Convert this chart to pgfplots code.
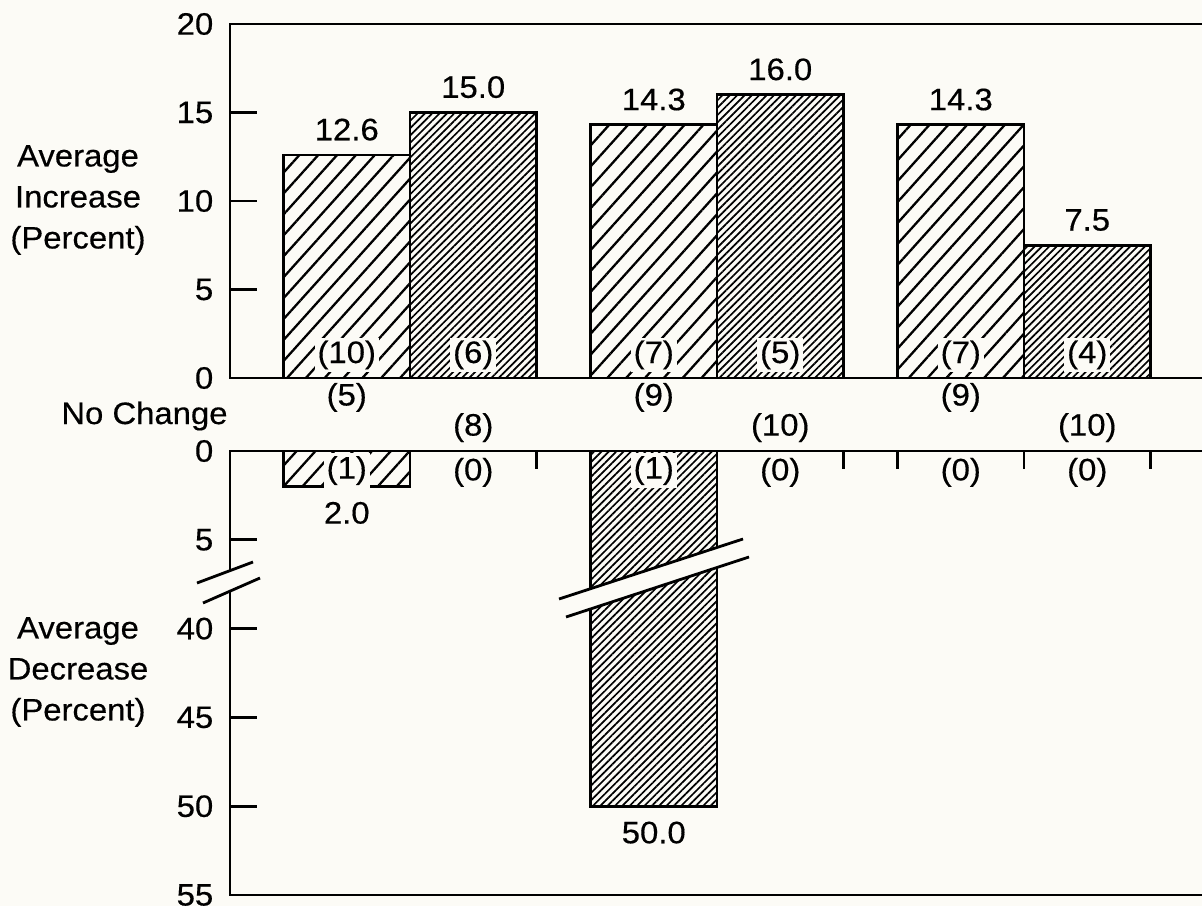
\documentclass[border=0pt]{standalone}
\usepackage{fontspec}
\setmainfont{Liberation Sans}[FakeStretch=1.06, FakeBold=0.4]
\usepackage{pgfplots}
\pgfplotsset{compat=1.18}
\usetikzlibrary{patterns.meta}
\definecolor{bgc}{RGB}{252,251,246}

\tikzset{cnt/.style={fill=bgc, inner sep=1.5pt}}
\pgfplotsset{
  /pgf/number format/assume math mode=true,
  panel/.style={
    anchor=south west, scale only axis, width=487pt,
    xmin=0.4137, xmax=3.5863,
    axis line style={line width=1.4pt},
    tick style={line width=1.4pt, black},
    tick align=inside,
    ytick pos=left,
    major tick length=13.5pt,
    yticklabel style={xshift=-3pt},
    clip=false,
  },
  coarse/.style={ybar, bar width=0.412, bar shift=0pt, draw=black, line width=1.4pt,
    pattern={Lines[angle=48,distance=7pt,line width=1.15pt]}, pattern color=black},
  fine/.style={ybar, bar width=0.412, bar shift=0pt, draw=black, line width=1.4pt,
    pattern={Lines[angle=45,distance=2.6pt,line width=0.85pt]}, pattern color=black},
}

\begin{document}
\fontsize{15.5pt}{20.5pt}\selectfont
\begin{tikzpicture}
\path[use as bounding box, fill=bgc] (0,0) rectangle (601pt,453pt);

% ---------------- upper panel: average increase ----------------
% bars: group centres 1, 2, 3; first bar of each group at -0.206, second at +0.206
\begin{axis}[panel,
  at={(115pt,264pt)}, height=177pt,
  ymin=0, ymax=20,
  xtick=\empty,
  ytick={0,5,10,15,20}, yticklabels={0,5,10,15,20},
  nodes near coords={\pgfmathprintnumber[fixed,fixed zerofill,precision=1]{\pgfplotspointmeta}},
  every node near coord/.append style={anchor=south, inner sep=6.5pt},
]
\addplot[coarse] coordinates {(0.794,12.6) (1.794,14.3) (2.794,14.3)};
\addplot[fine] coordinates {(1.206,15.0) (2.206,16.0) (3.206,7.5)};
% counts inside bars
\node[cnt] at (axis cs:0.794,1.3) {(10)};
\node[cnt] at (axis cs:1.206,1.3) {(6)};
\node[cnt] at (axis cs:1.794,1.3) {(7)};
\node[cnt] at (axis cs:2.206,1.3) {(5)};
\node[cnt] at (axis cs:2.794,1.3) {(7)};
\node[cnt] at (axis cs:3.206,1.3) {(4)};
% no change counts
\node at (axis cs:0.794,-1.1) {(5)};
\node at (axis cs:1.206,-2.8) {(8)};
\node at (axis cs:1.794,-1.1) {(9)};
\node at (axis cs:2.206,-2.8) {(10)};
\node at (axis cs:2.794,-1.1) {(9)};
\node at (axis cs:3.206,-2.8) {(10)};
\end{axis}

% ---------------- lower panel: average decrease (broken scale) ----------------
\begin{axis}[panel,
  at={(115pt,5.5pt)}, height=222pt,
  ymin=0, ymax=25, y dir=reverse,
  y filter/.expression={y>=39 ? y-30 : y},
  ytick={0,5,10,15,20,25}, yticklabels={0,5,40,45,50,55},
  xtick={0.588,1,1.412,1.588,2,2.412,2.588,3,3.412},
  xticklabels={},
  xtick pos=top,
  xtick style={/pgfplots/major tick length=9pt},
  point meta=explicit,
  nodes near coords={\pgfmathprintnumber[fixed,fixed zerofill,precision=1]{\pgfplotspointmeta}},
  every node near coord/.append style={anchor=north, inner sep=7pt},
]
\addplot[coarse] table[meta=v] {
x y v
0.794 2.0 2.0
};
\addplot[fine] table[meta=v] {
x y v
1.794 50.0 50.0
};
\node[cnt] at (axis cs:0.794,1.1) {(1)};
\node at (axis cs:1.206,1.2) {(0)};
\node[cnt] at (axis cs:1.794,1.1) {(1)};
\node at (axis cs:2.206,1.2) {(0)};
\node at (axis cs:2.794,1.2) {(0)};
\node at (axis cs:3.206,1.2) {(0)};
\end{axis}

% axis titles
\node[align=center] at (39pt,353pt) {Average\\Increase\\(Percent)};
\node[align=center] at (39pt,117pt) {Average\\Decrease\\(Percent)};
\node[anchor=east, inner sep=0pt] at (114pt,245pt) {No Change};

% scale breaks
\fill[bgc] (98.5pt,161.5pt) -- (126.5pt,172pt) -- (130pt,164pt) -- (101.5pt,151.5pt) -- cycle;
\draw[line width=1.4pt] (98.5pt,161.5pt) -- (126.5pt,172pt);
\draw[line width=1.4pt] (101.5pt,151.5pt) -- (130pt,164pt);
\fill[bgc] (279.5pt,153.5pt) -- (371.5pt,183.5pt) -- (374.5pt,174.5pt) -- (283pt,144.5pt) -- cycle;
\draw[line width=1.4pt] (279.5pt,153.5pt) -- (371.5pt,183.5pt);
\draw[line width=1.4pt] (283pt,144.5pt) -- (374.5pt,174.5pt);
\end{tikzpicture}
\end{document}
